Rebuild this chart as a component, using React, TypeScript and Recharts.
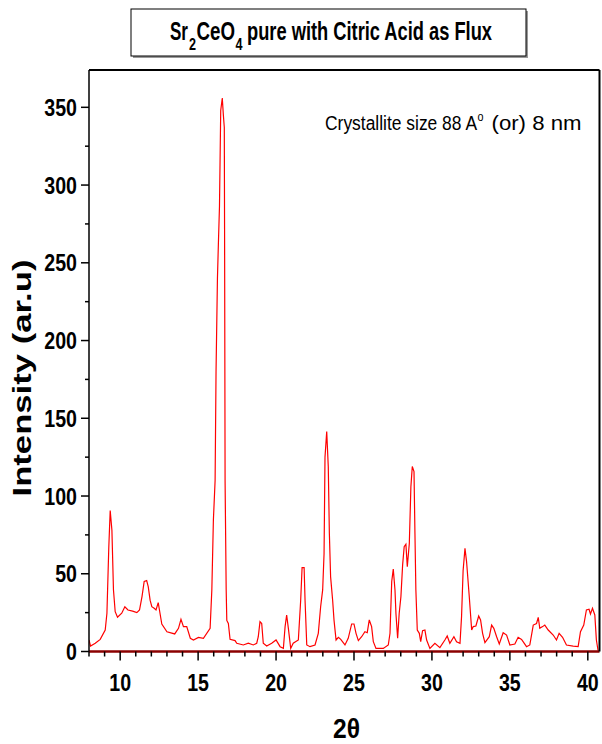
import React from "react";
import { LineChart, Line, XAxis, YAxis } from "recharts";

// 2-theta positions (deg) and intensities
const twoTheta: number[] = [
  8.0, 8.1, 8.4, 8.72, 9.04, 9.15, 9.27, 9.36, 9.47, 9.57, 9.68, 9.83, 10.1, 10.3, 10.5, 10.8,
  11.07, 11.24, 11.4, 11.54, 11.7, 11.8, 11.92, 12.03, 12.18, 12.3, 12.44, 12.52, 12.67, 13.0,
  13.5, 13.74, 13.9, 14.06, 14.27, 14.5, 14.7, 15.02, 15.34, 15.77, 15.88, 15.98, 16.09, 16.15,
  16.24, 16.3, 16.37, 16.45, 16.55, 16.62, 16.68, 16.7, 16.73, 16.8, 16.84, 16.94, 17.05, 17.37,
  17.48, 17.9, 18.22, 18.54, 18.76, 18.86, 18.97, 19.08, 19.18, 19.4, 19.72, 20.0, 20.26, 20.47,
  20.58, 20.68, 20.79, 20.94, 21.1, 21.43, 21.58, 21.67, 21.8, 21.86, 21.97, 22.18, 22.5, 22.71,
  22.86, 22.99, 23.08, 23.14, 23.25, 23.35, 23.42, 23.5, 23.63, 23.72, 23.85, 24.0, 24.15, 24.42,
  24.63, 24.85, 25.0, 25.13, 25.28, 25.49, 25.7, 25.85, 25.98, 26.13, 26.24, 26.41, 26.88, 27.2,
  27.31, 27.42, 27.52, 27.63, 27.69, 27.8, 27.9, 28.01, 28.12, 28.22, 28.33, 28.42, 28.55, 28.65,
  28.74, 28.85, 28.91, 28.97, 29.06, 29.19, 29.28, 29.4, 29.55, 29.66, 29.87, 30.19, 30.51, 30.83,
  30.98, 31.15, 31.41, 31.58, 31.8, 31.9, 32.0, 32.12, 32.22, 32.39, 32.55, 32.65, 32.82, 33.0,
  33.12, 33.25, 33.4, 33.68, 33.83, 33.97, 34.15, 34.32, 34.57, 34.79, 35.0, 35.32, 35.53, 35.75,
  36.07, 36.28, 36.5, 36.71, 36.82, 36.92, 37.1, 37.24, 37.46, 37.78, 37.99, 38.16, 38.38, 38.63,
  39.06, 39.38, 39.53, 39.74, 39.91, 40.08, 40.17, 40.3, 40.45, 40.55, 40.66,
];

const intensity: number[] = [
  7.4, 3.5, 5.3, 7.8, 13.8, 24.6, 67, 90.6, 78, 39.6, 25.6, 22, 24.6, 28.8, 26.7, 26,
  25, 26.7, 35.3, 45, 45.6, 41.7, 33, 28.8, 27.8, 26.7, 31.4, 26.7, 17.7, 12.7,
  11.3, 14.9, 20.7, 16, 16, 8.5, 7.4, 9.1, 8.5, 14.9, 39.6, 84.6, 110, 180,
  240, 262, 286, 348, 356, 345, 337, 260, 110, 40, 20, 18, 7.8, 7,
  5.3, 4.2, 5.3, 4.2, 5.3, 9.5, 19.2, 18, 5.3, 3.5, 5.3, 7.4, 3.1, 2,
  16, 23.5, 14.9, 2, 5.3, 7.4, 33, 54, 54, 33, 4.2, 3.1, 4.2, 11.7,
  28.8, 39.6, 63, 125, 141.4, 119, 76, 48, 33, 20, 7.4, 9.1, 7.8, 4.2,
  8.5, 17.7, 17.7, 11.7, 7, 9.5, 12.7, 12.1, 20.3, 16, 6.3, 2, 2, 4.2,
  11.7, 45, 53, 39.6, 24.6, 8.5, 24.6, 35.3, 55.7, 67.4, 69, 54.6, 69.6, 106,
  119, 115.7, 76, 39.6, 13.8, 11.7, 6.3, 13.4, 13.8, 7.4, 2, 5.3, 2.5, 7.4,
  10, 5.3, 9.5, 6.3, 5.3, 22.4, 52, 66.4, 58, 36, 13.8, 16, 16.4, 22.8,
  20.3, 11.7, 5.7, 9.5, 17, 14.9, 9.5, 4.8, 12.1, 10.6, 4.2, 4.8, 9.1, 7.8,
  3.1, 4.2, 17, 18, 22, 14.9, 16, 17, 13.8, 10.6, 7.4, 11.7, 9.1, 4.2,
  3.5, 3.1, 12.7, 17, 26.7, 27.2, 24.1, 27.8, 23.5, 7.4, 0.5,
];

const xTicks: number[] = [
  8, 9, 10, 11, 12, 13, 14, 15, 16, 17, 18, 19, 20, 21, 22, 23, 24,
  25, 26, 27, 28, 29, 30, 31, 32, 33, 34, 35, 36, 37, 38, 39, 40,
];
const yTicks: number[] = [0, 25, 50, 75, 100, 125, 150, 175, 200, 225, 250, 275, 300, 325, 350];

const data = twoTheta.map((x, i) => ({ x, y: intensity[i] }));

const SANS = "'Liberation Sans', Arial, sans-serif";
// the reference uses a condensed face; squeeze Liberation Sans to the measured widths
const DIGIT_W = 10.9;

const XTick = (props: any) => {
  const { x, y, payload } = props;
  const v = payload.value;
  const major = v % 5 === 0;
  return (
    <g>
      <line x1={x} x2={x} y1={y} y2={y + (major ? 9 : 5)} stroke="#000" strokeWidth={1.5} />
      {major && (
        <text
          x={x}
          y={y + 39}
          textAnchor="middle"
          fontFamily={SANS}
          fontWeight="bold"
          fontSize={24}
          textLength={String(v).length * DIGIT_W}
          lengthAdjust="spacingAndGlyphs"
          fill="#000"
        >
          {v}
        </text>
      )}
    </g>
  );
};

const YTick = (props: any) => {
  const { x, y, payload } = props;
  const v = payload.value;
  const major = v % 50 === 0;
  return (
    <g>
      <line x1={x - (major ? 8 : 4)} x2={x} y1={y} y2={y} stroke="#000" strokeWidth={1.5} />
      {major && (
        <text
          x={x - 12}
          y={y + 8.5}
          textAnchor="end"
          fontFamily={SANS}
          fontWeight="bold"
          fontSize={24}
          textLength={String(v).length * DIGIT_W}
          lengthAdjust="spacingAndGlyphs"
          fill="#000"
        >
          {v}
        </text>
      )}
    </g>
  );
};

export default function App() {
  return (
    <div style={{ position: "absolute", left: 0, top: 0, width: 602, height: 744, background: "#fff" }}>
      <LineChart width={602} height={744} data={data} margin={{ top: 69, right: 1.5, bottom: 62.5, left: 49 }}>
        <XAxis
          xAxisId="b"
          dataKey="x"
          type="number"
          domain={[8, 40.75]}
          allowDataOverflow
          ticks={xTicks}
          interval={0}
          tick={<XTick />}
          tickSize={0}
          tickMargin={0}
          tickLine={false}
          height={30}
          axisLine={{ stroke: "#8b0000", strokeWidth: 2.5 }}
        />
        <XAxis
          xAxisId="t"
          orientation="top"
          type="number"
          domain={[8, 40.75]}
          allowDataOverflow
          ticks={[8]}
          tick={false}
          tickLine={false}
          height={1}
          axisLine={{ stroke: "#000", strokeWidth: 2 }}
        />
        <YAxis
          yAxisId="l"
          type="number"
          domain={[0, 374]}
          allowDataOverflow
          ticks={yTicks}
          interval={0}
          tick={<YTick />}
          tickSize={0}
          tickMargin={0}
          tickLine={false}
          width={40}
          axisLine={{ stroke: "#000", strokeWidth: 1.5 }}
        />
        <YAxis
          yAxisId="r"
          orientation="right"
          type="number"
          domain={[0, 374]}
          allowDataOverflow
          ticks={[0]}
          tick={false}
          tickLine={false}
          width={1}
          axisLine={{ stroke: "#000", strokeWidth: 2 }}
        />
        <Line
          xAxisId="b"
          yAxisId="l"
          type="linear"
          dataKey="y"
          stroke="#ff0000"
          strokeWidth={1.2}
          dot={false}
          isAnimationActive={false}
        />
      </LineChart>

      <svg width={602} height={744} style={{ position: "absolute", left: 0, top: 0, pointerEvents: "none" }}>
        {/* title box */}
        <rect x={133} y={11} width={395} height={47} fill="#999" />
        <rect x={131} y={9} width={395} height={47} fill="#fff" stroke="#000" strokeWidth={1} />
        <g fontFamily={SANS} fontWeight="bold" fill="#000" lengthAdjust="spacingAndGlyphs">
          <text x={170} y={40} fontSize={26} textLength={18} lengthAdjust="spacingAndGlyphs">Sr</text>
          <text x={189} y={50} fontSize={16} textLength={7} lengthAdjust="spacingAndGlyphs">2</text>
          <text x={196.5} y={40} fontSize={26} textLength={38.5} lengthAdjust="spacingAndGlyphs">CeO</text>
          <text x={235.5} y={50} fontSize={16} textLength={7} lengthAdjust="spacingAndGlyphs">4</text>
          <text x={247} y={40} fontSize={26} textLength={245} lengthAdjust="spacingAndGlyphs">pure with Citric Acid as Flux</text>
        </g>

        {/* annotation */}
        <g fontFamily={SANS} fill="#000">
          <text x={325} y={130} fontSize={20} textLength={152} lengthAdjust="spacingAndGlyphs">Crystallite size 88 A</text>
          <text x={477.5} y={121} fontSize={12} textLength={6} lengthAdjust="spacingAndGlyphs">o</text>
          <text x={491.5} y={130} fontSize={20} textLength={90} lengthAdjust="spacingAndGlyphs">(or) 8 nm</text>
        </g>

        {/* axis titles */}
        <text
          transform="translate(31,378) rotate(-90)"
          textAnchor="middle"
          fontFamily={SANS}
          fontWeight="bold"
          fontSize={25}
          textLength={237}
          lengthAdjust="spacingAndGlyphs"
          fill="#000"
        >
          Intensity (ar.u)
        </text>
        <text
          x={346.5}
          y={738}
          textAnchor="middle"
          fontFamily={SANS}
          fontWeight="bold"
          fontSize={28}
          textLength={27}
          lengthAdjust="spacingAndGlyphs"
          fill="#000"
        >
          2θ
        </text>
      </svg>
    </div>
  );
}
